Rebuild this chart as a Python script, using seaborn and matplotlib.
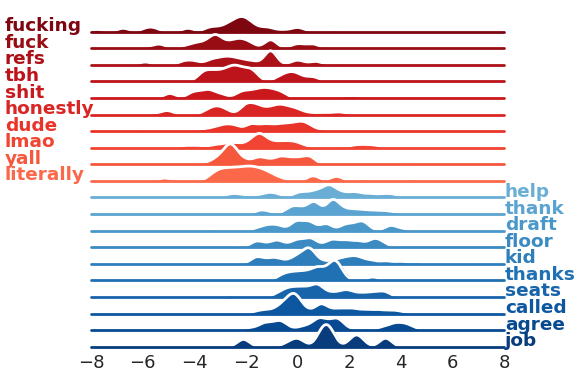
import numpy as np
import pandas as pd
import matplotlib
matplotlib.use("Agg")
import matplotlib.pyplot as plt
import seaborn as sns

sns.set_theme(style="white", rc={"axes.facecolor": (0, 0, 0, 0)})

red_words = ["fucking", "fuck", "refs", "tbh", "shit", "honestly", "dude", "lmao", "yall", "literally"]
blue_words = ["help", "thank", "draft", "floor", "kid", "thanks", "seats", "called", "agree", "job"]

# (value, weight) pairs, per word
fucking = [(-7.75, 2), (-6.75, 3), (-5.85, 2.5), (-5.55, 2.5), (-4.25, 3), (-3.4, 3.5), (-3.0, 3),
           (-2.6, 6), (-2.25, 8), (-1.95, 7), (-1.6, 3), (-1.15, 3.5), (-0.6, 1.5), (-0.1, 2), (0.1, 2), (1.4, 1.2)]
fuck = [(-5.8, 1.2), (-5.35, 3.5), (-4.4, 1.5), (-4.0, 3.5), (-3.6, 4), (-3.2, 10), (-2.85, 3.5), (-2.5, 4),
        (-2.2, 5.5), (-1.85, 4), (-1.05, 7.5), (-0.1, 2.5), (0.15, 2), (0.6, 3.5)]
refs = [(-5.9, 2.5), (-4.4, 3), (-4.0, 3), (-3.35, 4), (-2.95, 4.5), (-2.6, 5), (-2.2, 4), (-1.75, 3),
        (-1.05, 12.5), (-0.1, 2.5), (0.1, 2), (0.7, 3)]
tbh = [(-5.8, 1), (-4.5, 1), (-3.65, 7), (-3.3, 6), (-2.95, 6), (-2.6, 8), (-2.3, 8), (-1.95, 6), (-1.7, 6),
       (-0.7, 3.5), (-0.35, 5), (-0.05, 5), (0.35, 2), (0.65, 3)]
shit = [(-6.55, 1.5), (-4.95, 4), (-4.05, 4.5), (-3.7, 3), (-3.4, 5.5), (-2.95, 3), (-2.2, 4.5), (-1.85, 4),
        (-1.5, 5), (-1.2, 5), (-0.9, 4), (-0.6, 3.5), (1.85, 1.5), (2.3, 1.5)]
honestly = [(-5.6, 1), (-5.05, 3.5), (-3.5, 3), (-3.15, 5.5), (-2.8, 3.5), (-2.0, 8), (-1.6, 7), (-1.15, 4.5),
            (-0.75, 6.5), (-0.4, 4.5), (-0.05, 4), (0.4, 1.5), (0.9, 1.5), (1.4, 1.5), (1.75, 1.5)]
dude = [(-6.2, 1.5), (-5.6, 1), (-5.0, 1), (-4.3, 1), (-3.7, 1.5), (-3.25, 2.5), (-2.85, 4.5), (-2.45, 4.5),
        (-1.8, 6), (-1.3, 5), (-0.9, 4), (-0.5, 5), (-0.1, 5), (0.25, 6), (0.6, 2), (1.05, 1), (2.05, 1.3)]
lmao = [(-6.1, 1), (-5.4, 0.8), (-4.35, 1.8), (-3.85, 1.8), (-3.2, 2.5), (-2.7, 3.5), (-2.3, 3), (-1.8, 5),
        (-1.45, 10), (-1.05, 4), (-0.65, 4), (-0.3, 3.5), (0.0, 3), (0.4, 1), (1.5, 1.3), (2.2, 2), (2.6, 2), (3.0, 1.8)]
yall = [(-3.7, 1), (-3.25, 2.5), (-2.95, 5), (-2.6, 15), (-2.25, 4), (-1.95, 2), (-1.5, 5.5), (-1.1, 3),
        (-0.65, 6), (-0.25, 3.5), (0.05, 3.5), (0.45, 6.5), (2.6, 1.5), (4.1, 1.8)]
literally = [(-5.15, 2.5), (-4.5, 1), (-3.3, 4), (-3.0, 6), (-2.7, 6), (-2.4, 6), (-2.1, 6.5), (-1.8, 7),
             (-1.5, 6), (-1.2, 5), (-0.9, 2.5), (-0.6, 1.5), (0.6, 4.5), (1.5, 4), (2.5, 1.5), (4.45, 1.5)]

help_ = [(-2.7, 2), (-2.35, 2.5), (-1.9, 1.5), (-1.5, 1.5), (-1.1, 3.5), (-0.75, 2), (0.0, 3.5), (0.35, 3),
         (0.75, 5), (1.2, 9.5), (1.6, 4), (2.0, 2.5), (2.3, 3.5), (2.8, 3), (3.3, 2.5), (3.7, 2.5), (4.85, 1)]
thank = [(-2.3, 1.3), (-1.45, 3), (-1.1, 1.5), (-0.3, 4.5), (0.0, 4), (0.3, 2.5), (0.65, 10),
         (1.35, 12), (1.75, 3.5), (2.15, 3), (2.5, 2.5), (2.9, 2.5), (3.35, 2.5), (3.8, 1.5)]
draft = [(-3.35, 1.3), (-1.55, 2), (-1.15, 4), (-0.75, 4), (-0.05, 8), (0.45, 7.5), (1.1, 6), (1.85, 5),
         (2.25, 3.5), (2.55, 6.5), (3.6, 4.5), (4.1, 1.5)]
floor = [(-2.75, 1.2), (-1.6, 5), (-1.2, 2), (-0.8, 5.5), (-0.4, 1.5), (0.0, 6), (0.5, 7.5), (1.0, 1.5),
         (1.35, 6), (1.85, 5.5), (2.35, 5), (2.95, 6.5), (3.3, 3)]
kid = [(-1.6, 5.5), (-1.25, 2), (-0.9, 4.5), (-0.5, 2), (-0.05, 5.5), (0.3, 5), (0.5, 9.5), (1.0, 2),
       (1.5, 3), (1.9, 4.5), (2.3, 5.5), (2.8, 3), (3.4, 2.5), (4.0, 2), (4.6, 1.5)]
thanks = [(-2.45, 1), (-1.65, 1), (-0.6, 4), (-0.25, 4.5), (0.05, 4), (0.35, 5), (0.75, 9), (1.1, 5),
          (1.45, 15), (1.75, 2), (2.9, 3), (6.4, 1)]
seats = [(-2.6, 1.5), (-0.75, 2.5), (-0.4, 5.5), (-0.05, 5.5), (0.3, 6), (0.75, 10), (1.2, 3), (1.6, 3),
         (1.95, 5), (2.45, 3), (2.9, 3.5), (3.35, 4.5), (5.5, 1.2)]
called = [(-1.6, 1.5), (-1.25, 2.5), (-0.8, 3.5), (-0.45, 8), (-0.1, 14), (0.3, 3), (0.9, 8), (1.3, 2),
          (1.65, 3.5), (2.1, 4), (2.6, 3), (3.1, 3), (3.6, 2.5), (4.0, 1.5)]
agree = [(-1.85, 2), (-1.3, 5.5), (-0.9, 4), (-0.6, 6), (0.0, 1.5), (0.35, 3), (0.8, 8.5), (1.15, 5),
         (1.55, 9), (2.0, 1), (2.6, 1.5), (3.3, 2.5), (3.75, 5), (4.15, 4.5), (4.5, 1.5)]
job = [(-2.1, 6.5), (-0.45, 2), (-0.1, 5), (0.15, 3), (0.95, 12), (1.25, 12), (2.15, 6), (2.4, 6), (3.4, 7.5)]

red_data = [fucking, fuck, refs, tbh, shit, honestly, dude, lmao, yall, literally]
blue_data = [help_, thank, draft, floor, kid, thanks, seats, called, agree, job]

x_ticks = [-8, -6, -4, -2, 0, 2, 4, 6, 8]

BW = 0.24          # kernel width in data units
SCALE = 1.12       # vertical scale of the ridges
FW, FH = 581, 377
left_px, right_px = 91.0, 504.5
top_base, step = 31.7, 16.58
ax_h = 50.0

reds = sns.color_palette("Reds", as_cmap=True)
blues = sns.color_palette("Blues", as_cmap=True)
red_cols = [reds(v) for v in np.linspace(0.95, 0.5, 10)]
blue_cols = [blues(v) for v in np.linspace(0.5, 0.95, 10)]

words = red_words + blue_words
datas = red_data + blue_data
cols = red_cols + blue_cols

fig = plt.figure(figsize=(FW / 100, FH / 100), dpi=100)

for i, (word, pts, col) in enumerate(zip(words, datas, cols)):
    base = top_base + i * step
    ax = fig.add_axes([left_px / FW, 1 - base / FH, (right_px - left_px) / FW, ax_h / FH])
    ax.set_zorder(i + 1)
    df = pd.DataFrame(pts, columns=["x", "w"])
    std = float(np.sqrt(np.cov(df["x"].to_numpy(), aweights=df["w"].to_numpy())))
    bwm = BW / std
    sns.kdeplot(data=df, x="x", weights="w", bw_method=bwm, fill=True, alpha=1,
                linewidth=1.5, color=col, ax=ax)
    sns.kdeplot(data=df, x="x", weights="w", bw_method=bwm, color="w", lw=2, ax=ax)
    ax.axhline(0, lw=2, color=col, clip_on=False)
    ax.set_xlim(-8, 8)
    ax.set_ylim(0, ax_h / (SCALE * df["w"].sum() * np.sqrt(2 * np.pi) * BW))
    ax.set_xlabel("")
    ax.set_ylabel("")
    ax.set_yticks([])
    for s in ax.spines.values():
        s.set_visible(False)
    if i == len(words) - 1:
        ax.set_xticks(x_ticks)
        ax.tick_params(axis="x", length=0, pad=5, labelsize=13, labelcolor="#262626")
    else:
        ax.set_xticks([])
    tx = 5 / FW if i < 10 else 505 / FW
    fig.text(tx, 1 - (base - 0.5) / FH, word, fontweight="bold", fontsize=13.3, color=col,
             ha="left", va="baseline", zorder=100)

fig.savefig("out.png", dpi=100)
